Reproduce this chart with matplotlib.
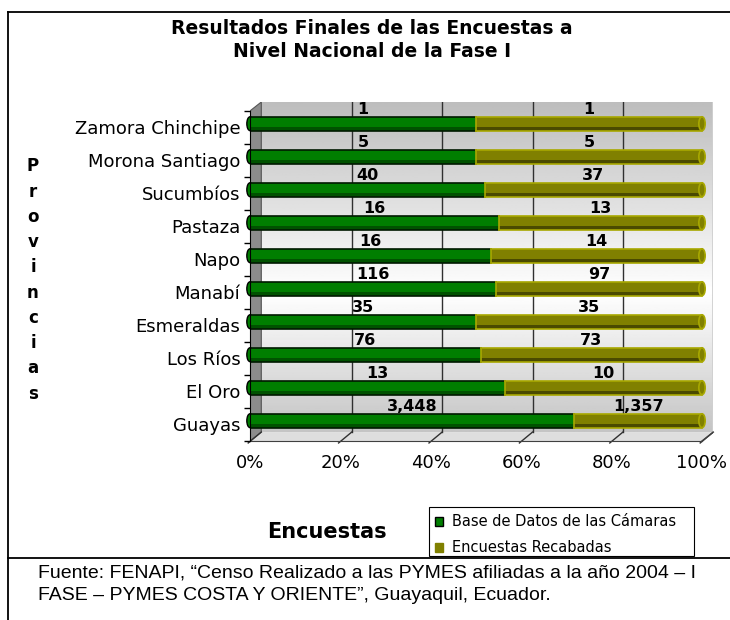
import numpy as np
import matplotlib
matplotlib.use('Agg')
import matplotlib.pyplot as plt
from matplotlib.patches import Ellipse, Polygon, Rectangle

# datos (de abajo hacia arriba, como en el eje)
provincias = ['Guayas', 'El Oro', 'Los Ríos', 'Esmeraldas', 'Manabí',
              'Napo', 'Pastaza', 'Sucumbíos', 'Morona Santiago', 'Zamora Chinchipe']
base_camaras = [3448, 13, 76, 35, 116, 16, 16, 40, 5, 1]
encuestas_recabadas = [1357, 10, 73, 35, 97, 14, 13, 37, 5, 1]
series_names = ['Base de Datos de las Cámaras', 'Encuestas Recabadas']
pct_ticks = [0, 0.2, 0.4, 0.6, 0.8, 1.0]
pct_labels = ['0%', '20%', '40%', '60%', '80%', '100%']

titulo = 'Resultados Finales de las Encuestas a\nNivel Nacional de la Fase I'
fuente = ('Fuente: FENAPI, \u201cCenso Realizado a las PYMES afiliadas a la año 2004 \u2013 I\n'
          'FASE \u2013 PYMES COSTA Y ORIENTE\u201d, Guayaquil, Ecuador.')

# colores
green_main, green_dark, green_edge = '#007e00', '#005200', '#001a00'
olive_main, olive_dark, olive_edge = '#808000', '#4a4a00', '#a8a800'

W, H = 730, 620
fig = plt.figure(figsize=(W / 100, H / 100), dpi=100)

# capa de fondo en pixeles para marco, titulo, leyenda y fuente
bg = fig.add_axes([0, 0, 1, 1])
bg.set_xlim(0, W)
bg.set_ylim(H, 0)
bg.axis('off')

bg.plot([8, W], [12, 12], color='black', lw=1.3)
bg.plot([8, 8], [12, H], color='black', lw=1.3)
bg.plot([8, W], [558, 558], color='black', lw=1.3)

bg.text(372, 40, titulo, ha='center', va='center', fontsize=13.5,
        fontweight='bold', linespacing=1.3)
bg.text(33, 280, '\n'.join('Provincias'), ha='center', va='center',
        fontsize=12, fontweight='bold', linespacing=1.52)
bg.text(327, 532, 'Encuestas', ha='center', va='center', fontsize=15,
        fontweight='bold')
bg.text(38, 584, fuente, ha='left', va='center', fontsize=14,
        family='Liberation Sans', linespacing=1.45)

# leyenda
bg.add_patch(Rectangle((429, 507), 265, 49, facecolor='white',
                       edgecolor='black', lw=0.8))
bg.add_patch(Rectangle((435, 516.5), 8, 9, facecolor=green_main,
                       edgecolor='black', lw=1))
bg.add_patch(Rectangle((435, 542.5), 8, 9, facecolor=olive_main,
                       edgecolor=olive_main, lw=1))
bg.text(452, 521, series_names[0], ha='left', va='center', fontsize=10.5)
bg.text(452, 547, series_names[1], ha='left', va='center', fontsize=10.5)

# area del grafico
px = 452.0
ax = fig.add_axes([250 / W, 1 - 441 / H, 463 / W, 339 / H])
ax.set_facecolor('none')
y_lo, y_hi = -0.515, 9.758
dx, dy = 0.025, 0.27

# pared del fondo con degradado
grad = np.interp(np.linspace(0, 1, 200), [0, 0.58, 1], [0.74, 1.0, 0.77])[:, None]
ax.imshow(grad, cmap='gray', vmin=0, vmax=1, aspect='auto',
          extent=[dx, 1 + dx, y_lo + dy, y_hi], origin='upper', zorder=0)
ax.plot([1 + dx, 1 + dx], [y_lo + dy, y_hi], color='#d0d0d0', lw=2, zorder=0.5)

# piso y pared izquierda
ax.add_patch(Polygon([(0, y_lo), (1, y_lo), (1 + dx, y_lo + dy), (dx, y_lo + dy)],
                     closed=True, facecolor='#dedede', edgecolor='none', zorder=0.6))
ax.add_patch(Polygon([(0, y_lo), (dx, y_lo + dy), (dx, y_hi), (0, y_hi - dy)],
                     closed=True, facecolor='#8c8c8c', edgecolor='#555555',
                     lw=0.8, zorder=0.7))

for t in pct_ticks:
    if 0 < t < 1:
        ax.plot([t + dx, t + dx], [y_lo + dy, y_hi], color='#303030', lw=1, zorder=1)
    ax.plot([t - 0.004, t + dx], [y_lo - 0.06, y_lo + dy], color='#303030',
            lw=1, zorder=1, clip_on=False)
ax.plot([1, 1 + dx], [y_lo, y_lo + dy], color='#404040', lw=1, zorder=1)

# barras 100% apiladas tipo cilindro
h = 0.42
cap_w = 0.014
for i in range(len(provincias)):
    total = base_camaras[i] + encuestas_recabadas[i]
    p1 = base_camaras[i] / total
    p2 = encuestas_recabadas[i] / total
    yc = i + 0.1

    ax.add_patch(Ellipse((0, yc), cap_w, h, facecolor=green_main,
                         edgecolor='black', lw=1, zorder=2.9, clip_on=False))
    left = 0
    for p, main, dark, edge in [(p1, green_main, green_dark, green_edge),
                                (p2, olive_main, olive_dark, olive_edge)]:
        ax.barh(yc, p, left=left, height=h, color=dark, zorder=3)
        ax.barh(yc + h / 8, p, left=left, height=h * 0.75, color=main, zorder=3)
        ax.plot([left, left + p], [yc + h / 2] * 2, color=edge, lw=1.2, zorder=4)
        ax.plot([left, left + p], [yc - h / 2] * 2, color=edge, lw=1.2, zorder=4)
        left += p
    ax.plot([p1, p1], [yc - h / 2, yc + h / 2], color=olive_edge, lw=1.2, zorder=4)
    ax.add_patch(Ellipse((1, yc), cap_w, h, facecolor=olive_main,
                         edgecolor=olive_edge, lw=1.2, zorder=4.5, clip_on=False))

    ax.text(p1 / 2, i + 0.52, f'{base_camaras[i]:,}', ha='center', va='center',
            fontsize=11.5, fontweight='bold', zorder=6)
    ax.text(p1 + p2 / 2, i + 0.52, f'{encuestas_recabadas[i]:,}', ha='center',
            va='center', fontsize=11.5, fontweight='bold', zorder=6)

ax.set_xlim(0, 463 / px)
ax.set_ylim(y_lo, y_hi)

for s in ['top', 'right']:
    ax.spines[s].set_visible(False)
ax.spines['left'].set_bounds(y_lo, y_hi - dy)
ax.spines['left'].set_zorder(5)
ax.spines['bottom'].set_bounds(0, 1)
ax.spines['bottom'].set_color('#404040')

ax.set_xticks(pct_ticks, pct_labels)
ax.tick_params(axis='x', length=0, pad=9, labelsize=13)
ax.set_yticks(range(len(provincias)), provincias)
ax.tick_params(axis='y', which='major', length=0, pad=7, labelsize=13)
ax.set_yticks(np.arange(-0.5, len(provincias)), minor=True)
ax.tick_params(axis='y', which='minor', length=4, width=1, color='black')

fig.savefig('out.png', dpi=100)
